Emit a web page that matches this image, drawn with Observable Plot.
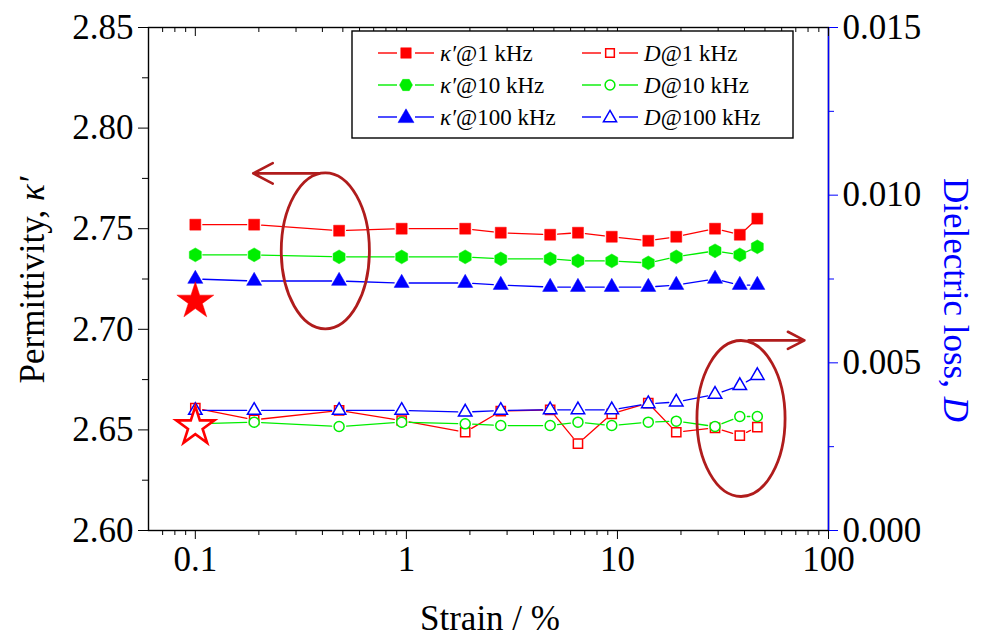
<!DOCTYPE html>
<html>
<head>
<meta charset="utf-8">
<script src="https://cdn.jsdelivr.net/npm/d3@7"></script>
<script src="https://cdn.jsdelivr.net/npm/@observablehq/plot@0.6"></script>
<style>
  html, body { margin: 0; padding: 0; background: #fff; }
  #chart { position: relative; width: 982px; height: 639px; font-family: "Liberation Serif", "Times New Roman", serif; }
  #chart > svg { position: absolute; left: 0; top: 0; }
  .title { position: absolute; white-space: nowrap; font-size: 35px; line-height: 1; color: #000; }
</style>
</head>
<body>
<div id="chart"></div>
<script>
// Strain levels (%)
const strain = [0.1, 0.19, 0.48, 0.95, 1.9, 2.8, 4.8, 6.5, 9.4, 14, 19, 29, 38, 46];

// Permittivity κ′ at three frequencies
const kappa1k   = [2.752, 2.752, 2.749, 2.750, 2.750, 2.748, 2.747, 2.748, 2.746, 2.744, 2.746, 2.750, 2.747, 2.755];
const kappa10k  = [2.737, 2.737, 2.736, 2.736, 2.736, 2.735, 2.735, 2.734, 2.734, 2.733, 2.736, 2.739, 2.737, 2.741];
const kappa100k = [2.725, 2.724, 2.724, 2.723, 2.723, 2.722, 2.721, 2.721, 2.721, 2.721, 2.722, 2.725, 2.722, 2.722];

// Dielectric loss D at three frequencies
const loss1k   = [0.00365, 0.00330, 0.00358, 0.00328, 0.00293, 0.00356, 0.00360, 0.00259, 0.00348, 0.00380, 0.00293, 0.00306, 0.00283, 0.00308];
const loss10k  = [0.00318, 0.00323, 0.00310, 0.00323, 0.00318, 0.00313, 0.00313, 0.00323, 0.00313, 0.00323, 0.00326, 0.00310, 0.00340, 0.00340];
const loss100k = [0.00358, 0.00358, 0.00358, 0.00358, 0.00353, 0.00358, 0.00360, 0.00360, 0.00360, 0.00378, 0.00383, 0.00406, 0.00432, 0.00462];

// Unstrained reference film (stars)
const refStrain = [0.1];
const refKappa = [2.714];
const refLoss = [0.0031];

// Axis ticks
const xMajor = [0.1, 1, 10, 100];
const xMinor = [0.07, 0.08, 0.09, 0.2, 0.3, 0.4, 0.5, 0.6, 0.7, 0.8, 0.9, 2, 3, 4, 5, 6, 7, 8, 9, 20, 30, 40, 50, 60, 70, 80, 90];
const kMajor = [2.60, 2.65, 2.70, 2.75, 2.80, 2.85];
const kMinor = [2.625, 2.675, 2.725, 2.775, 2.825];
const dMajor = [0, 0.005, 0.010, 0.015];
const dMinor = [0.0025, 0.0075, 0.0125];

// Callouts: ellipse centre (strain, value) and arrow ends
const calloutKappa = {strain: 0.413, value: 2.739, arrowFrom: [0.387, 2.7775], arrowTo: [0.188, 2.7775]};
const calloutLoss  = {strain: 38.5, value: 0.00334, arrowFrom: [41.8, 0.00567], arrowTo: [76.9, 0.00567]};

// Both axes share one vertical scale; D is mapped onto the κ′ range
const kDomain = [2.60, 2.85], dDomain = [0, 0.015];
const toK = d => kDomain[0] + (d - dDomain[0]) / (dDomain[1] - dDomain[0]) * (kDomain[1] - kDomain[0]);
const fromK = k => dDomain[0] + (k - kDomain[0]) / (kDomain[1] - kDomain[0]) * (dDomain[1] - dDomain[0]);

const RED = "#ff0000", GREEN = "#00ee00", BLUE = "#0000ff", CALLOUT = "#b01c1c";

const rows = (ys) => strain.map((s, i) => ({s, v: ys[i]}));
const segs = (ys) => strain.slice(1).map((s, i) => ({x1: strain[i], y1: ys[i], x2: s, y2: ys[i + 1]}));

const series = [
  {vals: kappa1k, color: RED, symbol: "square", filled: true, r: 6.2},
  {vals: kappa10k, color: GREEN, symbol: "hexagon", filled: true, r: 6},
  {vals: kappa100k, color: BLUE, symbol: "triangle", filled: true, r: 5.6},
  {vals: loss1k.map(toK), color: RED, symbol: "square", filled: false, r: 5.2},
  {vals: loss10k.map(toK), color: GREEN, symbol: "circle", filled: false, r: 5},
  {vals: loss100k.map(toK), color: BLUE, symbol: "triangle", filled: false, r: 5}
];

// Ellipse outline usable as a dot symbol: tall ellipse whose half-height is the dot radius
const ellipseSymbol = {
  draw(context, size) {
    const ry = Math.sqrt(size / Math.PI), rx = ry * 0.565, k = 0.5523;
    context.moveTo(rx, 0);
    context.bezierCurveTo(rx, k * ry, k * rx, ry, 0, ry);
    context.bezierCurveTo(-k * rx, ry, -rx, k * ry, -rx, 0);
    context.bezierCurveTo(-rx, -k * ry, -k * rx, -ry, 0, -ry);
    context.bezierCurveTo(k * rx, -ry, rx, -k * ry, rx, 0);
    context.closePath();
  }
};

const pxK = (kDomain[1] - kDomain[0]) / 503; // κ′ units per pixel, for inward top ticks
const FS = 35;

const marks = [
  Plot.frame({stroke: "#000", strokeWidth: 1.4}),
  Plot.ruleX([100], {stroke: BLUE, strokeWidth: 1.4}),
  // bottom axis
  Plot.axisX({ticks: xMajor, anchor: "bottom", tickSize: 9, tickPadding: 7, fontSize: FS, tickFormat: d => String(d), label: null}),
  Plot.axisX({ticks: xMinor, anchor: "bottom", tickSize: 5, tickFormat: () => "", label: null}),
  // top mirrored ticks (inward)
  Plot.ruleX(xMajor, {x: d => d, y1: kDomain[1], y2: kDomain[1] - 9 * pxK, stroke: "#000"}),
  Plot.ruleX(xMinor, {x: d => d, y1: kDomain[1], y2: kDomain[1] - 5 * pxK, stroke: "#000"}),
  // left axis
  Plot.axisY({ticks: kMajor, anchor: "left", tickSize: 10, tickPadding: 5, fontSize: FS, tickFormat: d3.format(".2f"), label: null}),
  Plot.axisY({ticks: kMinor, anchor: "left", tickSize: 6, tickFormat: () => "", label: null}),
  // right axis (dielectric loss)
  Plot.axisY({ticks: dMajor.map(toK), anchor: "right", tickSize: 9, tickPadding: 5, fontSize: FS, stroke: BLUE, fill: "#000", tickFormat: v => fromK(v).toFixed(3), label: null}),
  Plot.axisY({ticks: dMinor.map(toK), anchor: "right", tickSize: 5, stroke: BLUE, tickFormat: () => "", label: null})
];

// connecting lines, broken around each marker
for (const sr of series) {
  marks.push(Plot.arrow(segs(sr.vals), {x1: "x1", y1: "y1", x2: "x2", y2: "y2", stroke: sr.color, strokeWidth: 1.3, headLength: 0, insetStart: 7.5, insetEnd: 7.5}));
}
// markers
for (const sr of series) {
  marks.push(Plot.dot(rows(sr.vals), {
    x: "s", y: "v", symbol: sr.symbol, r: sr.r,
    fill: sr.filled ? sr.color : "#fff",
    stroke: sr.color, strokeWidth: sr.filled ? 0.5 : 1.5
  }));
}
// reference stars
marks.push(Plot.dot(refStrain.map((s, i) => ({s, v: refLoss[i]})), {x: "s", y: d => toK(d.v), symbol: "star", r: 12, fill: "#fff", stroke: RED, strokeWidth: 2.6}));
marks.push(Plot.dot(refStrain.map((s, i) => ({s, v: refKappa[i]})), {x: "s", y: "v", symbol: "star", r: 11.6, fill: RED, stroke: RED, strokeWidth: 0.5}));
// callout ellipses and arrows
marks.push(Plot.dot([calloutKappa, {...calloutLoss, value: toK(calloutLoss.value)}], {x: "strain", y: "value", symbol: ellipseSymbol, r: 78, fill: "none", stroke: CALLOUT, strokeWidth: 2.8}));
marks.push(Plot.arrow([
  {x1: calloutKappa.arrowFrom[0], y1: calloutKappa.arrowFrom[1], x2: calloutKappa.arrowTo[0], y2: calloutKappa.arrowTo[1]},
  {x1: calloutLoss.arrowFrom[0], y1: toK(calloutLoss.arrowFrom[1]), x2: calloutLoss.arrowTo[0], y2: toK(calloutLoss.arrowTo[1])}
], {x1: "x1", y1: "y1", x2: "x2", y2: "y2", stroke: CALLOUT, strokeWidth: 2.6, headLength: 13, headAngle: 55}));

const chart = Plot.plot({
  width: 982, height: 639,
  marginLeft: 148, marginRight: 154, marginTop: 27, marginBottom: 109,
  style: {fontFamily: '"Liberation Serif", "Times New Roman", serif', background: "#fff", color: "#000", overflow: "visible"},
  x: {type: "log", domain: [0.06, 100], axis: null},
  y: {domain: kDomain, axis: null},
  marks
});

const root = document.getElementById("chart");
root.appendChild(chart);

// Axis titles
function addTitle(html, cx, cy, rot, color) {
  const el = document.createElement("div");
  el.className = "title";
  el.innerHTML = html;
  el.style.left = cx + "px";
  el.style.top = cy + "px";
  el.style.transform = `translate(-50%, -50%) rotate(${rot}deg)`;
  if (color) el.style.color = color;
  root.appendChild(el);
}
addTitle("Permittivity, <i>κ′</i>", 32, 280, -90);
addTitle("Dielectric loss, <i>D</i>", 955, 300, 90, BLUE);
addTitle("Strain / %", 490, 618, 0);

// Legend box
const hexagon = {
  draw(context, size) {
    const r = Math.sqrt(size / (1.5 * Math.sqrt(3)));
    for (let i = 0; i < 6; i++) {
      const a = Math.PI / 3 * i;
      const x = r * Math.cos(a), y = r * Math.sin(a);
      if (i === 0) context.moveTo(x, y); else context.lineTo(x, y);
    }
    context.closePath();
  }
};
const legendItems = [
  {label: ["κ′", "@1 kHz"], color: RED, symbol: d3.symbolSquare, filled: true, col: 0, row: 0},
  {label: ["κ′", "@10 kHz"], color: GREEN, symbol: hexagon, filled: true, col: 0, row: 1},
  {label: ["κ′", "@100 kHz"], color: BLUE, symbol: d3.symbolTriangle, filled: true, col: 0, row: 2},
  {label: ["D", "@1 kHz"], color: RED, symbol: d3.symbolSquare, filled: false, col: 1, row: 0},
  {label: ["D", "@10 kHz"], color: GREEN, symbol: d3.symbolCircle, filled: false, col: 1, row: 1},
  {label: ["D", "@100 kHz"], color: BLUE, symbol: d3.symbolTriangle, filled: false, col: 1, row: 2}
];
const lg = d3.select(root).append("svg")
  .attr("width", 982).attr("height", 639)
  .style("position", "absolute").style("left", 0).style("top", 0)
  .style("font-family", '"Liberation Serif", "Times New Roman", serif');
lg.append("rect").attr("x", 352).attr("y", 31).attr("width", 441).attr("height", 107)
  .attr("fill", "#fff").attr("stroke", "#000").attr("stroke-width", 1.4);
const colX = [378, 582], rowY = [53, 85, 117];
for (const it of legendItems) {
  const x0 = colX[it.col], y = rowY[it.row];
  const g = lg.append("g");
  g.append("line").attr("x1", x0).attr("x2", x0 + 19).attr("y1", y).attr("y2", y).attr("stroke", it.color).attr("stroke-width", 1.4);
  g.append("line").attr("x1", x0 + 37).attr("x2", x0 + 56).attr("y1", y).attr("y2", y).attr("stroke", it.color).attr("stroke-width", 1.4);
  const size = it.filled ? 110 : 75;
  g.append("path").attr("d", d3.symbol(it.symbol, size)()).attr("transform", `translate(${x0 + 28},${y + (it.symbol === d3.symbolTriangle ? 1 : 0)})`)
    .attr("fill", it.filled ? it.color : "#fff").attr("stroke", it.color).attr("stroke-width", it.filled ? 0.5 : 1.5);
  const t = g.append("text").attr("x", x0 + 62).attr("y", y + 8).attr("font-size", 23).attr("fill", "#000");
  t.append("tspan").attr("font-style", "italic").text(it.label[0]);
  t.append("tspan").text(it.label[1]);
}
</script>
</body>
</html>
